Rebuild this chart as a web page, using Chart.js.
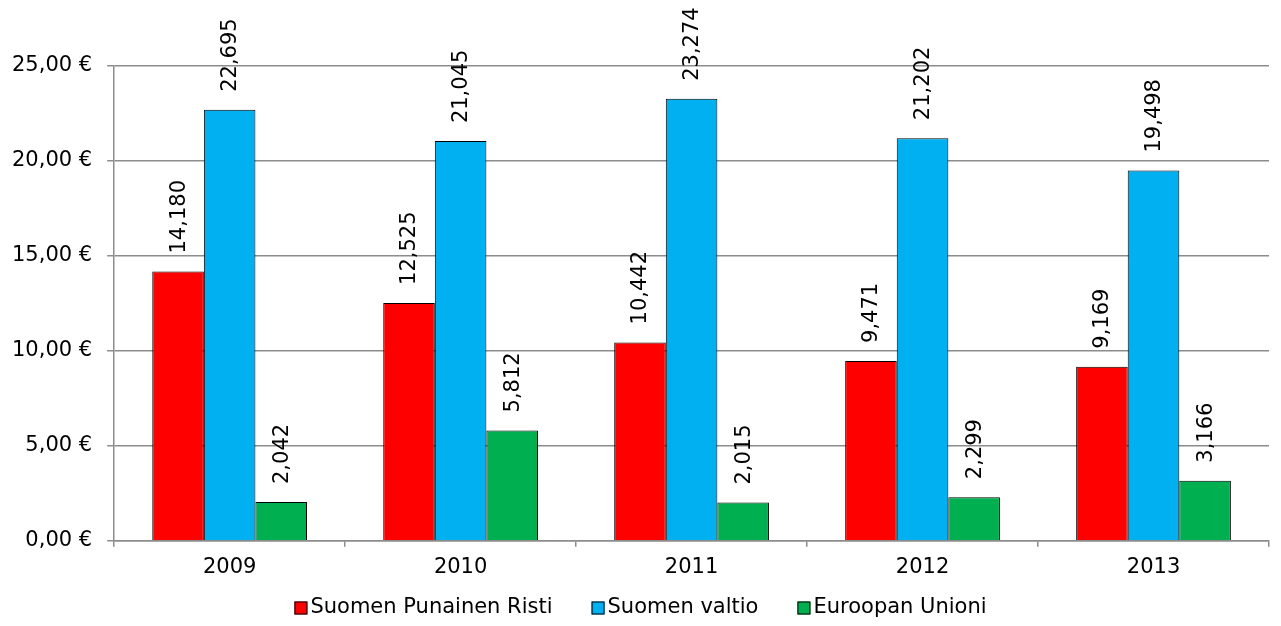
<!DOCTYPE html>
<html>
<head>
<meta charset="utf-8">
<script src="https://cdn.jsdelivr.net/npm/chart.js@4/dist/chart.umd.min.js"></script>
<style>
  html, body { margin: 0; padding: 0; background: #fff; }
  #wrap { width: 1281px; height: 626px; }
</style>
</head>
<body>
<div id="wrap"><canvas id="fundingChart"></canvas></div>
<script>
const years = ["2009", "2010", "2011", "2012", "2013"];
const redCross = [14.180, 12.525, 10.442, 9.471, 9.169];
const finnishState = [22.695, 21.045, 23.274, 21.202, 19.498];
const europeanUnion = [2.042, 5.812, 2.015, 2.299, 3.166];
const yTicks = [0, 5, 10, 15, 20, 25];

const fontFamily = "'DejaVu Sans', Verdana, sans-serif";
const gridColor = "#8c8c8c";

// rotated value labels above each bar
const valueLabels = {
  id: "valueLabels",
  afterDatasetsDraw(chart) {
    const ctx = chart.ctx;
    ctx.save();
    ctx.font = "21px " + fontFamily;
    ctx.fillStyle = "#000";
    ctx.textAlign = "left";
    ctx.textBaseline = "middle";
    chart.data.datasets.forEach((ds, i) => {
      chart.getDatasetMeta(i).data.forEach((bar, j) => {
        const txt = ds.data[j].toFixed(3).replace(".", ",");
        ctx.save();
        ctx.translate(bar.x + 1, bar.y - 18);
        ctx.rotate(-Math.PI / 2);
        ctx.fillText(txt, 0, 0);
        ctx.restore();
      });
    });
    ctx.restore();
  }
};

// excel-like legend: small boxes, text right next to them
const bottomLegend = {
  id: "bottomLegend",
  afterDraw(chart) {
    const ctx = chart.ctx;
    const sets = chart.data.datasets;
    const box = 13, gapText = 3, gapItem = 39;
    ctx.save();
    ctx.font = "21px " + fontFamily;
    ctx.textBaseline = "middle";
    ctx.textAlign = "left";
    const widths = sets.map(d => box + gapText + ctx.measureText(d.label).width);
    const total = widths.reduce((a, b) => a + b, 0) + gapItem * (sets.length - 1);
    let x = chart.width / 2 - total / 2;
    const y = 608;
    sets.forEach((d, i) => {
      ctx.fillStyle = d.backgroundColor;
      ctx.fillRect(x, y - box / 2, box, box);
      ctx.strokeStyle = "#000";
      ctx.lineWidth = 1;
      ctx.strokeRect(x + 0.5, y - box / 2 + 0.5, box - 1, box - 1);
      ctx.fillStyle = "#000";
      ctx.fillText(d.label, x + box + gapText, y);
      x += widths[i] + gapItem;
    });
    ctx.restore();
  }
};

new Chart(document.getElementById("fundingChart"), {
  type: "bar",
  data: {
    labels: years,
    datasets: [
      { label: "Suomen Punainen Risti", data: redCross, backgroundColor: "#FF0000" },
      { label: "Suomen valtio", data: finnishState, backgroundColor: "#00B0F0" },
      { label: "Euroopan Unioni", data: europeanUnion, backgroundColor: "#00B050" }
    ].map(d => Object.assign(d, {
      borderColor: "#000",
      borderWidth: 1,
      barPercentage: 1,
      categoryPercentage: 0.67
    }))
  },
  options: {
    responsive: true,
    maintainAspectRatio: false,
    animation: false,
    layout: { padding: { top: 66, left: -3, right: 12, bottom: 38 } },
    plugins: {
      tooltip: { enabled: false },
      legend: { display: false }
    },
    scales: {
      x: {
        grid: { display: true, drawOnChartArea: false, drawTicks: true, tickLength: 6, color: gridColor, lineWidth: 1.5 },
        border: { color: gridColor, width: 1.5 },
        ticks: { color: "#000", font: { family: fontFamily, size: 21 }, padding: 8 }
      },
      y: {
        min: 0,
        max: 25,
        afterBuildTicks: axis => { axis.ticks = yTicks.map(v => ({ value: v })); },
        grid: { color: gridColor, lineWidth: 1.5, tickLength: 7 },
        border: { color: gridColor, width: 1.5 },
        ticks: {
          color: "#000",
          font: { family: fontFamily, size: 21 },
          padding: 15,
          callback: v => v.toFixed(2).replace(".", ",") + " €"
        }
      }
    }
  },
  plugins: [valueLabels, bottomLegend]
});
</script>
</body>
</html>
